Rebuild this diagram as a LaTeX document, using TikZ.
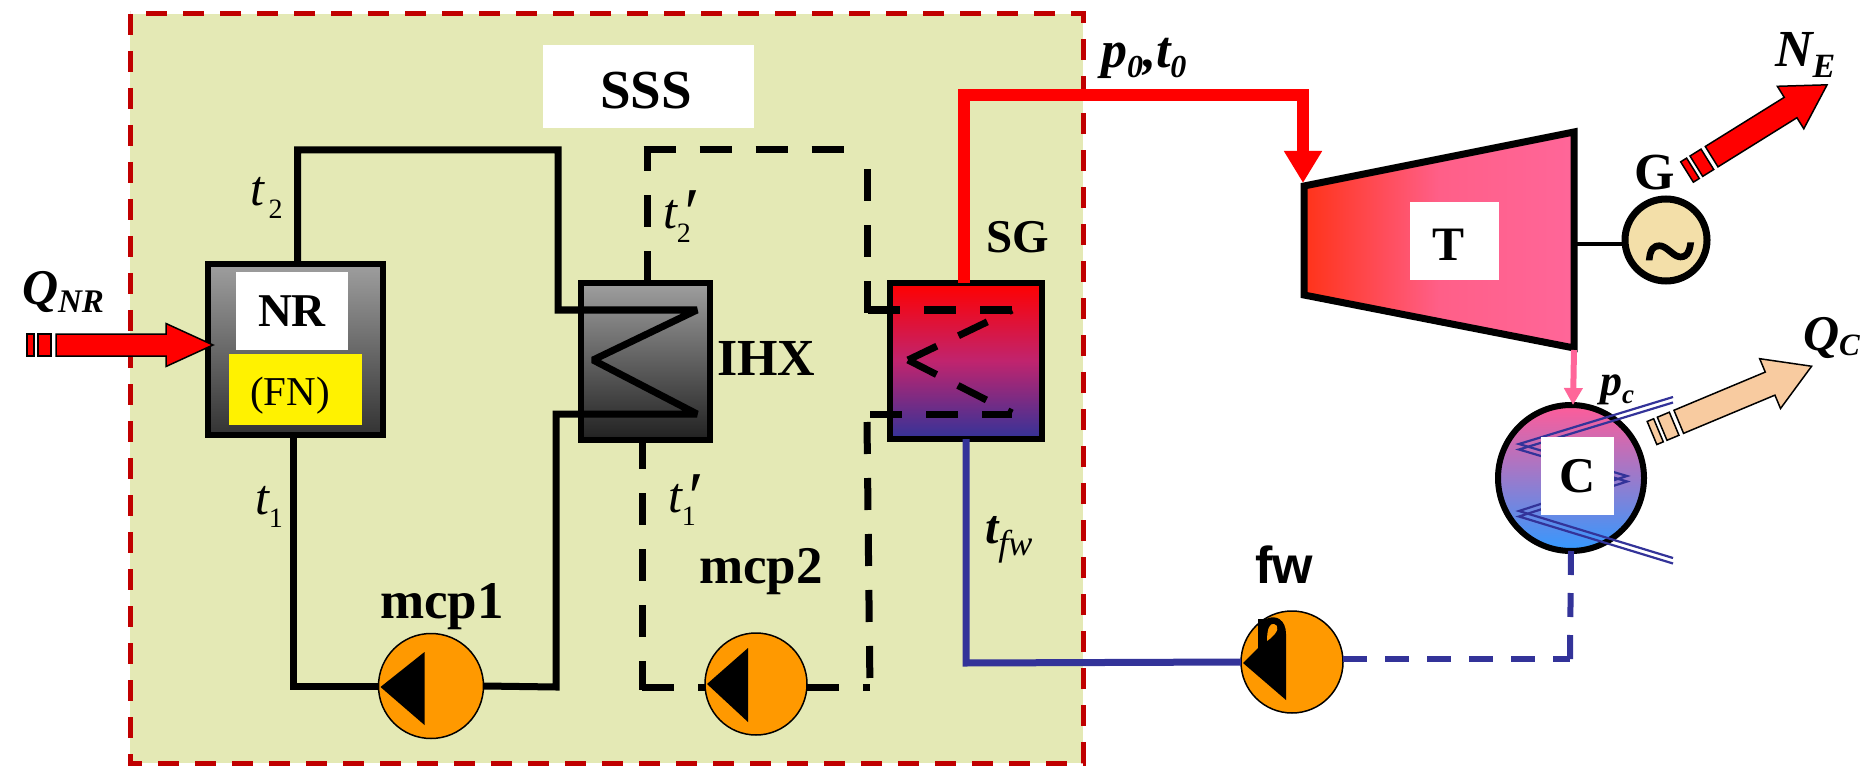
\documentclass[tikz,border=0pt]{standalone}
\usepackage{fontspec}
\setmainfont{Liberation Serif}
\newfontfamily\arialfont{Liberation Sans}
\newfontfamily\tildefont[FakeBold=2]{Liberation Serif}
\usepackage{tikz}
\usetikzlibrary{arrows.meta}

\definecolor{sssgreen}{HTML}{E4E9B5}
\definecolor{framered}{HTML}{C00000}
\definecolor{pumporange}{HTML}{FF9900}
\definecolor{feedblue}{HTML}{333399}
\definecolor{steampink}{HTML}{FF6699}
\definecolor{gencream}{HTML}{F3DFA9}
\definecolor{coldpeach}{HTML}{F8CBA0}

\tikzset{
  lab/.style={inner sep=0, outer sep=0, anchor=base west},
  bf/.style={lab, font=\fontsize{#1}{#1}\selectfont\bfseries},
  bfit/.style={lab, font=\fontsize{#1}{#1}\selectfont\bfseries\itshape},
  it/.style={lab, font=\fontsize{#1}{#1}\selectfont\itshape},
  whitebox/.style={fill=white, inner sep=0, outer sep=0},
  unit/.style={draw, line width=6pt, inner sep=0, outer sep=0},
  pump/.style={draw, circle, fill=pumporange, line width=1.5pt, inner sep=0, outer sep=0},
  pipe/.style={line width=7pt, line join=miter, miter limit=2},
  dashpipe/.style={pipe, dash pattern=on 32pt off 24pt},
  heatline/.style={draw, line width=1.5pt}
}

% index set lower than its base
\newcommand{\ind}[3]{\raisebox{-#1pt}{\fontsize{#2}{#2}\selectfont #3}}
\newcommand{\primed}[1]{\rlap{\hspace{#1pt}\raisebox{-8pt}{\fontsize{70}{70}\selectfont ′}}}

\newcommand{\heatarrow}[7]{
  \begin{scope}[shift={#2}, rotate=#3]
    \filldraw[heatline, fill=#1] (0, -#5) rectangle (7, #5);
    \filldraw[heatline, fill=#1] (11, -#5) rectangle (24, #5);
    \filldraw[heatline, fill=#1] (29, -#5) -- (#4-#7, -#5) -- (#4-#7, -#6) -- (#4, 0)
      -- (#4-#7, #6) -- (#4-#7, #5) -- (29, #5) -- cycle;
  \end{scope}
}

\begin{document}
\begin{tikzpicture}[x=1pt, y=-1pt]
  \useasboundingbox (0, 0) rectangle (1863, 767);

  % the SSS frame
  \draw[framered, fill=sssgreen, line width=5pt, dash pattern=on 21pt off 16pt]
    (130, 14) rectangle (1083, 763);
  \node[whitebox, minimum width=211pt, minimum height=83pt] at (648.5, 86.5) (SSSbox) {};
  \node[bf=55, anchor=base] at (646, 109) (SSS) {SSS};

  % units
  \node[unit, top color=black!38, bottom color=black!80,
    minimum width=175pt, minimum height=171pt] at (295.5, 349.5) (NR) {};
  \node[whitebox, minimum width=112pt, minimum height=78pt, font=\fontsize{47}{47}\selectfont\bfseries]
    at (292, 311) (NRbox) {NR};
  \node[fill=yellow, inner sep=0, minimum width=133pt, minimum height=71pt] at (295.5, 389.5) (FNbox) {};
  \node[lab, font=\fontsize{41}{41}\selectfont, anchor=base] at (290, 405) (FN) {(FN)};

  \node[unit, top color=black!38, bottom color=black!87,
    minimum width=129pt, minimum height=157pt] at (645.5, 361.5) (IHX) {};
  \node[bf=52] at (717, 375) (IHXtext) {IHX};

  \definecolor{sgmid}{HTML}{C0246E}
  \node[unit, top color=red, bottom color=feedblue, middle color=sgmid,
    minimum width=152pt, minimum height=156pt] at (966, 361) (SG) {};
  \node[bf=47] at (986, 253) (SGtext) {SG};

  % pumps
  \foreach \name/\x/\y/\r in {mcpa/431/686/105, mcpb/756/684/102} {
    \node[pump, minimum size=\r pt] at (\x, \y) (\name) {};
  }
  \node[pump, minimum size=102pt] at (1292, 662) (fw) {};

  % primary loop
  \coordinate (ihxA) at (697, 310);
  \coordinate (ihxB) at (593, 360);
  \coordinate (ihxC) at (697, 414);
  \draw[pipe] ([xshift=2pt]NR.north) |- (558, 150) -- (558, 310) -- (ihxA) -- (ihxB) -- (ihxC)
    -- (556, 414) -- (556, 687) -- (mcpa.east);
  \draw[pipe] (mcpa.west) -| ([xshift=-2pt]NR.south);

  % intermediate loop
  \coordinate (tube) at (647, 150);
  \coordinate (sgA) at (1012, 310);
  \coordinate (sgB) at (908, 360);
  \coordinate (sgC) at (1012, 413);
  \draw[dashpipe] ([xshift=1.5pt]IHX.north) -- (tube);
  \draw[dashpipe] ([xshift=-3.5pt]tube) -- (867, 150);
  \draw[dashpipe] (867, 313) -- (867, 147);
  \draw[dashpipe] (868, 310) -- (sgA);
  \draw[dashpipe] (sgB) -- (sgA);
  \draw[dashpipe] (sgB) -- (sgC);
  \draw[dashpipe] (870, 414) -- (1012, 414);
  \draw[dashpipe] (867, 422) -- (870, 691);
  \draw[dashpipe] ([yshift=-3pt]mcpb.east) -- (870, 687);
  \draw[dashpipe, dash phase=3pt] ([xshift=-3.5pt]IHX.south) -- (642, 690);
  \draw[dashpipe] (642, 687) -- ([yshift=-3pt]mcpb.west);

  % pump wheels
  \fill (mcpa.west) ++(2, 1) -- +(44, -35) -- +(44, 38) -- cycle;
  \fill (mcpb.west) ++(2, 0) -- +(41, -36) -- +(41, 38) -- cycle;
  \fill (1243, 663) -- (1258, 648) -- (1258, 619) -- (1266, 619)
    .. controls (1276, 614) and (1286, 620) .. (1286, 634) -- (1286, 700) -- cycle;
  \fill[pumporange] (1267, 641) .. controls (1267, 628) and (1270, 623) .. (1274, 624)
    .. controls (1279, 625) and (1280, 632) .. cycle;

  \node[bf=53] at (380, 618) (mcp1) {mcp1};
  \node[bf=53] at (699, 583) (mcp2) {mcp2};
  \node[lab, font=\fontsize{52}{52}\selectfont\arialfont\bfseries] at (1255, 583) (fwtext) {fw};

  % turbine and generator
  \definecolor{turbleft}{HTML}{FF3319}
  \definecolor{turbmid}{HTML}{FF5F88}
  \draw[line width=7pt, line join=miter, left color=turbleft, right color=steampink, middle color=turbmid]
    (1304, 186) -- (1574, 132) -- (1574, 348) -- (1304, 295) -- cycle;
  \node[whitebox, minimum width=89pt, minimum height=78pt] at (1454.5, 241) (Tbox) {};
  \node[bf=48, anchor=base] at (1448, 261) (T) {T};
  \coordinate (Tin) at (1303, 183);
  \coordinate (Tshaft) at (1576, 244);
  \coordinate (Tout) at (1574, 350);

  \node[draw, circle, fill=gencream, line width=7pt, inner sep=0, outer sep=0, minimum size=82pt]
    at (1666, 240) (G) {};
  \draw[line width=4pt] (Tshaft) -- (G.west |- Tshaft);
  \node[lab, font=\fontsize{95}{95}\selectfont\tildefont, anchor=center] at (1670, 263) (tilde) {\char`\~};
  \node[bf=52] at (1634, 190) (Gtext) {G};

  % steam and feed water
  \draw[red, line width=12pt, line join=miter, -{Triangle[width=36pt, length=32pt]}]
    ([xshift=-2pt]SG.north) -- (964, 95) -| (Tin);
  \draw[feedblue, line width=7pt] (SG.south) -- (966, 663) -- (fw.west);

  % condenser
  \definecolor{condtop}{HTML}{FF5C99}
  \definecolor{condbot}{HTML}{3399FF}
  \node[draw, circle, line width=6pt, top color=condtop, bottom color=condbot,
    inner sep=0, outer sep=0, minimum size=146pt] at (1571, 478) (C) {};
  \foreach \d in {0, 5.5} {
    \draw[feedblue, line width=2.2pt] (1673, 397+\d) -- (1519, 444+\d) -- (1627, 476+\d)
      -- (1519, 511+\d) -- (1673, 558+\d);
  }
  \node[whitebox, minimum width=73pt, minimum height=78pt, font=\fontsize{50}{50}\selectfont\bfseries]
    at (1577.5, 476) (Cbox) {C};
  \draw[steampink, line width=6pt, -{Triangle[width=18pt, length=17pt]}] (Tout) -- ([xshift=2pt]C.north);

  \coordinate (cond) at (1570, 659);
  \draw[feedblue, line width=6pt, dash pattern=on 24pt off 18pt] (C.south) -- (cond);
  \draw[feedblue, line width=6pt, dash pattern=on 24pt off 18pt] ([yshift=3pt]fw.east) -- (cond);

  % heat and power arrows
  \heatarrow{red}{(27, 345)}{0}{186}{11}{21.5}{47}
  \heatarrow{red}{(1687, 172)}{31.9}{165}{12}{25}{43}
  \heatarrow{coldpeach}{(1652, 433)}{22.7}{173}{12.5}{27}{45}

  % labels
  \node[bfit=50] at (22, 305) (QNR) {Q\ind{8}{33}{NR}};
  \node[bfit=52] at (1775, 67) (NE) {N\ind{11}{34}{E}};
  \node[bfit=50] at (1803, 350) (QC) {Q\ind{5}{31}{C}};
  \node[bfit=44] at (1600, 395) (pc) {p\ind{8}{27}{c}};
  \node[bfit=52] at (1101, 68) (p0t0) {p\ind{10}{32}{0},t\ind{10}{32}{0}};
  \node[it=50] at (250, 206) (t2) {t\ind{13}{28}{\,\upshape 2}};
  \node[it=50] at (255, 514) (t1) {t\ind{13}{28}{\upshape 1}};
  \node[it=50] at (663, 229) (tp2) {t\primed{4}\ind{14}{28}{\upshape 2}};
  \node[it=50] at (668, 512) (tp1) {t\primed{3}\ind{13}{28}{\upshape 1}};
  \node[bfit=48] at (985, 543) (tfw) {t\ind{12}{36}{\mdseries fw}};
\end{tikzpicture}
\end{document}
